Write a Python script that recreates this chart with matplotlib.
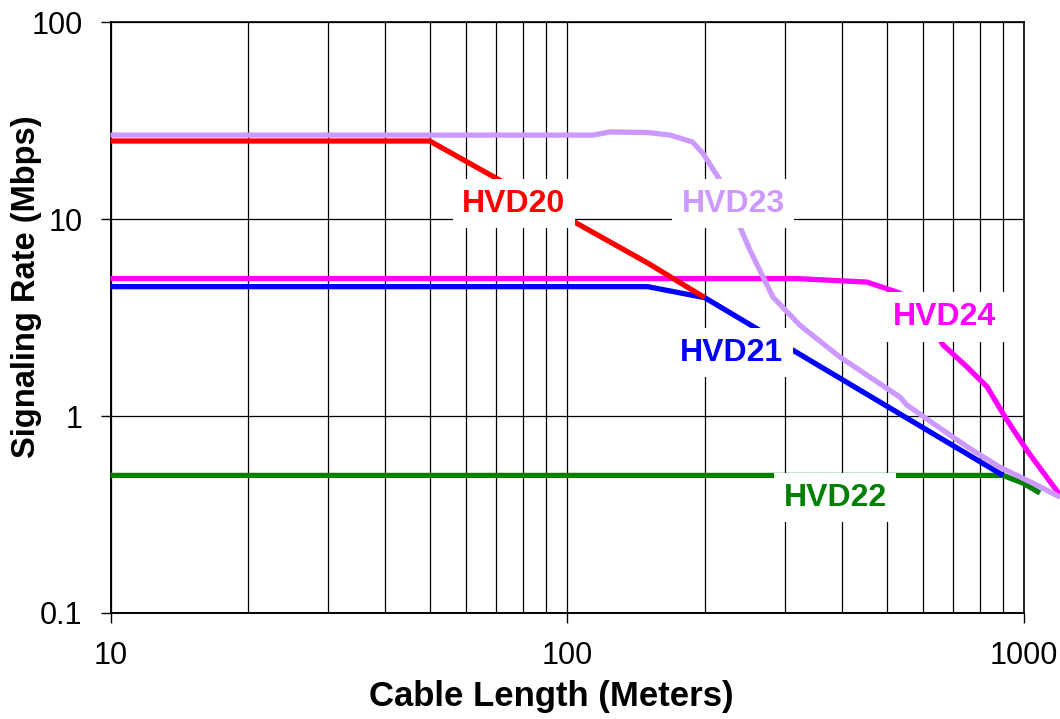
import matplotlib
matplotlib.use("Agg")
import matplotlib.pyplot as plt
from matplotlib.ticker import FixedLocator, NullFormatter, FixedFormatter

plt.rcParams['font.family'] = ['Liberation Sans', 'DejaVu Sans']

# ---- data ----
hvd20_x = [10, 50, 150, 200]
hvd20_y = [25, 25, 6.0, 4.0]

hvd21_x = [10, 150, 200, 900]
hvd21_y = [4.55, 4.55, 4.0, 0.5]

hvd22_x = [10, 900, 995, 1084]
hvd22_y = [0.5, 0.5, 0.457, 0.407]

hvd23_x = [10, 114, 124, 150, 168, 188, 198, 216, 251, 282, 323, 395, 535, 554, 632, 750, 886, 1046, 1199]
hvd23_y = [26.8, 26.8, 27.8, 27.6, 26.8, 24.7, 21.7, 15.8, 7.0, 4.03, 2.9, 2.0, 1.25, 1.14, 0.92, 0.70, 0.55, 0.457, 0.388]

hvd24_x = [10, 318, 453, 535, 607, 665, 750, 830, 909, 1015, 1199]
hvd24_y = [5.0, 5.0, 4.8, 4.22, 3.3, 2.3, 1.78, 1.41, 0.99, 0.67, 0.397]

label_names = ["HVD20", "HVD23", "HVD24", "HVD21", "HVD22"]
label_x = [76.4, 230.7, 668, 228.8, 385.8]
label_y = [12.0, 12.0, 3.19, 2.10, 0.386]

x_ticks = [10, 100, 1000]
x_ticklabels = ["10", "100", "1000"]
y_ticks = [0.1, 1, 10, 100]
y_ticklabels = ["0.1", "1", "10", "100"]
x_minor = [20, 30, 40, 50, 60, 70, 80, 90, 200, 300, 400, 500, 600, 700, 800, 900]

# ---- styles ----
colors = {
    "HVD20": "#FF0000",
    "HVD21": "#0000FF",
    "HVD22": "#008000",
    "HVD23": "#CC99FF",
    "HVD24": "#FF00FF",
}

fig = plt.figure(figsize=(10.60, 7.19), dpi=100)
ax = fig.add_axes([110.5 / 1060, 1 - 613 / 719, (1024 - 110.5) / 1060, (613 - 22.5) / 719])
ax.set_xscale("log")
ax.set_yscale("log")
ax.set_xlim(10, 1000)
ax.set_ylim(0.1, 100)

lw = 3.8
series = [
    ("HVD22", hvd22_x, hvd22_y),
    ("HVD21", hvd21_x, hvd21_y),
    ("HVD24", hvd24_x, hvd24_y),
    ("HVD20", hvd20_x, hvd20_y),
    ("HVD23", hvd23_x, hvd23_y),
]
for i, (name, xs, ys) in enumerate(series):
    ax.plot(xs, ys, color=colors[name], lw=lw, clip_on=False,
            solid_joinstyle="round", solid_capstyle="butt", zorder=3 + i * 0.1)

for name, x, y in zip(label_names, label_x, label_y):
    ax.text(x, y, name, color=colors[name], fontsize=23, fontweight="bold",
            ha="center", va="center", zorder=10,
            bbox=dict(boxstyle="square,pad=0.3", fc="white", ec="none"))

ax.xaxis.set_major_locator(FixedLocator(x_ticks))
ax.xaxis.set_major_formatter(FixedFormatter(x_ticklabels))
ax.xaxis.set_minor_locator(FixedLocator(x_minor))
ax.xaxis.set_minor_formatter(NullFormatter())
ax.yaxis.set_major_locator(FixedLocator(y_ticks))
ax.yaxis.set_major_formatter(FixedFormatter(y_ticklabels))
ax.yaxis.set_minor_locator(FixedLocator([]))

ax.grid(True, which="major", axis="both", color="black", lw=0.9, zorder=1)
ax.grid(True, which="minor", axis="x", color="black", lw=0.9, zorder=1)
ax.set_axisbelow(True)

ax.tick_params(axis="both", which="major", length=7.2, width=1.0, labelsize=22,
               pad=13, direction="out", color="black")
ax.tick_params(axis="x", which="minor", length=0)

for side in ["left", "bottom"]:
    ax.spines[side].set_linewidth(1.4)
for side in ["top", "right"]:
    ax.spines[side].set_linewidth(1.2)

ax.set_xlabel("Cable Length (Meters)", fontsize=25, fontweight="bold")
ax.set_ylabel("Signaling Rate (Mbps)", fontsize=23.5, fontweight="bold")
ax.xaxis.set_label_coords((551 - 110.5) / 913.5, -0.113)
ax.yaxis.set_label_coords(-0.075, 0.553)

fig.savefig("out.png", dpi=100)
